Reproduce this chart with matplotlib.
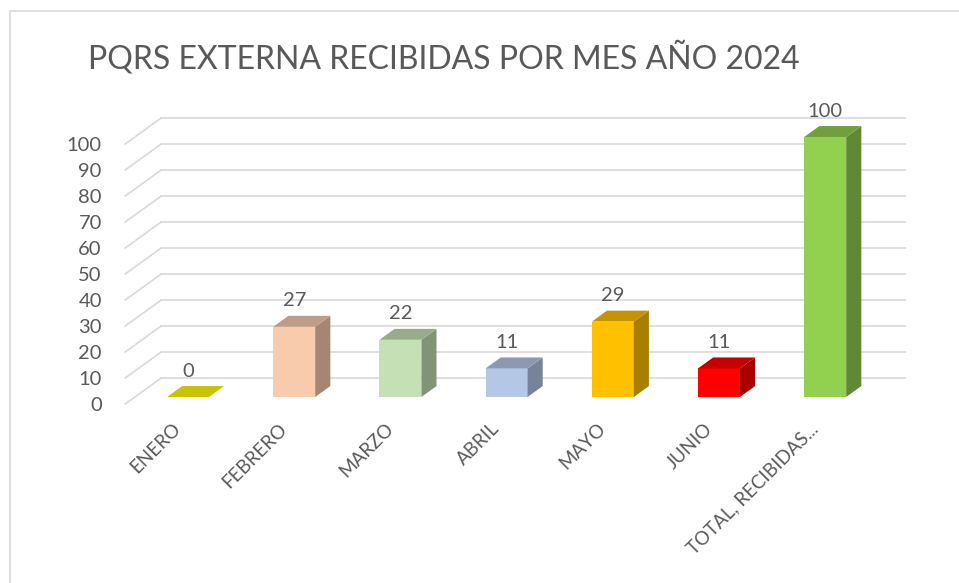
import matplotlib.pyplot as plt
from matplotlib.patches import Polygon, Rectangle
import numpy as np

# datos del grafico
categorias = ["ENERO", "FEBRERO", "MARZO", "ABRIL", "MAYO", "JUNIO", "TOTAL, RECIBIDAS..."]
valores = [0, 27, 22, 11, 29, 11, 100]
colores = ["#C9C400", "#F8CBAD", "#C5E0B4", "#B4C7E7", "#FFC000", "#FF0000", "#92D050"]
marcas_y = [0, 10, 20, 30, 40, 50, 60, 70, 80, 90, 100]
titulo = "PQRS EXTERNA RECIBIDAS POR MES AÑO 2024"

plt.rcParams['font.family'] = ['Lato', 'DejaVu Sans']
GRIS = "#595959"
GRID = "#D9D9D9"

W, H = 959, 583
fig = plt.figure(figsize=(W / 100, H / 100), dpi=100)

# ejes: x = categoria, y = valor (plano frontal de la pared)
px0, px_cat = 178.3, 106.2      # pixel x de la categoria 0 y ancho de categoria
py0, py_val = 404.0, 2.6        # pixel y del valor 0 y pixeles por unidad
xlim = (-0.72, 6.9)
ylim = (-2, 112)
left = (px0 + xlim[0] * px_cat) / W
right = (px0 + xlim[1] * px_cat) / W
top = (py0 - ylim[1] * py_val)
bottom = (py0 - ylim[0] * py_val)
ax = fig.add_axes([left, 1 - bottom / H, right - left, (bottom - top) / H])
ax.set_xlim(*xlim)
ax.set_ylim(*ylim)
for s in ax.spines.values():
    s.set_visible(False)

# profundidad 3D
DX = 36 / px_cat   # desplazamiento x para profundidad completa
DY = 10.0          # desplazamiento y (unidades de valor)
d0, d1 = 0.27, 0.69
ancho = 0.395

# rejilla: pared lateral y pared del fondo
for v in marcas_y:
    ax.plot([-0.5, -0.5 + DX], [v, v + DY], color=GRID, lw=1.2, zorder=1, clip_on=False)
    ax.plot([-0.5 + DX, 6.5 + DX], [v + DY, v + DY], color=GRID, lw=1.2, zorder=1, clip_on=False)


def sombra(c, f):
    r, g, b = [int(c[i:i + 2], 16) / 255 for i in (1, 3, 5)]
    return (r * f, g * f, b * f)


for i, (v, c) in enumerate(zip(valores, colores)):
    xa = i - ancho / 2 + DX * d0
    xb = i + ancho / 2 + DX * d0
    ya = DY * d0
    ox, oy = DX * (d1 - d0), DY * (d1 - d0)
    # frente
    ax.add_patch(Rectangle((xa, ya), xb - xa, v, facecolor=c, edgecolor='none', zorder=3))
    # lado derecho
    ax.add_patch(Polygon([(xb, ya), (xb + ox, ya + oy), (xb + ox, ya + oy + v), (xb, ya + v)],
                         closed=True, facecolor=sombra(c, 0.66), edgecolor='none', zorder=3))
    # tapa
    tapa = c if v == 0 else sombra(c, 0.77)
    ax.add_patch(Polygon([(xa, ya + v), (xb, ya + v), (xb + ox, ya + v + oy), (xa + ox, ya + v + oy)],
                         closed=True, facecolor=tapa, edgecolor='none', zorder=4))
    ax.text(i + DX * d0, ya + v + oy + 2.5, str(v), ha='center', va='bottom',
            fontsize=14.5, color=GRIS, zorder=5)

ax.set_yticks(marcas_y)
ax.set_yticklabels([str(m) for m in marcas_y], fontsize=14.5, color=GRIS)
ax.set_xticks(range(len(categorias)))
ax.set_xticklabels(categorias, fontsize=13.5, color=GRIS, rotation=45,
                   ha='right', va='center', rotation_mode='anchor')
ax.tick_params(axis='both', length=0)
ax.tick_params(axis='y', pad=0)
ax.tick_params(axis='x', pad=12)

fig.text(88 / W, 1 - 58 / H, titulo, fontsize=23, color=GRIS, ha='left', va='center')

# borde del area del grafico
fig.patches.append(Rectangle((10 / W, -0.1), 1.2, 1 - 11 / H + 0.1, transform=fig.transFigure,
                             facecolor='none', edgecolor=GRID, lw=1.2))

fig.savefig("out.png", dpi=100, facecolor='white')
